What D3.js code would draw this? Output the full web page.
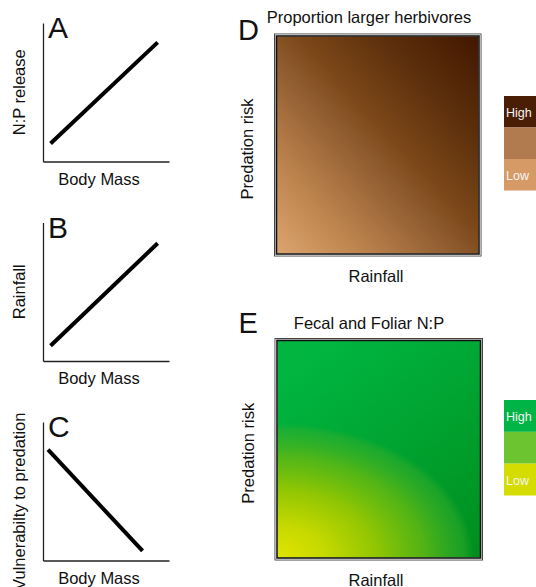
<!DOCTYPE html>
<html>
<head>
<meta charset="utf-8">
<script src="https://cdn.jsdelivr.net/npm/d3@7"></script>
<style>
  body { margin: 0; background: #fff; }
  text { font-family: "Liberation Sans", Arial, sans-serif; fill: #111; }
</style>
</head>
<body>
<div id="chart"></div>
<script>
const width = 536;
const height = 587;

// schematic panels A-C (relative 0..1 units)
const panelLetters = ['A', 'B', 'C'];
const yLabels = ['N:P release', 'Rainfall', 'Vulnerabilty to predation'];
const xLabel = 'Body Mass';
const lineX = [[0.06, 0.91], [0.06, 0.91], [0.04, 0.79]];
const lineY = [[0.13, 0.86], [0.11, 0.85], [0.80, 0.07]];

// heat panels D-E
const heatLetters = ['D', 'E'];
const heatTitles = ['Proportion larger herbivores', 'Fecal and Foliar N:P'];
const heatX = 'Rainfall';
const heatY = 'Predation risk';
const legendLabels = ['High', '', 'Low'];
const herbLegend = ['#4a1d05', '#b27b4f', '#d69a66'];
const npLegend = ['#00b446', '#6cc530', '#d5dc00'];

const herbOffsets = [0, 0.2, 0.45, 0.55, 0.75, 1];
const herbColors = ['#dca46f', '#c08650', '#8e5b2e', '#7c4819', '#5e300c', '#421700'];
const npBaseOffsets = [0, 1];
const npBaseColors = ['#00b540', '#008e1e'];
const npGlowOffsets = [0, 0.25, 0.5, 0.75, 0.95, 1];
const npGlowColors = ['#e2e400', '#c4d800', '#9ac800', '#66ba10', '#3cb02a', '#3cb02a'];
const npGlowOpacity = [1, 1, 0.95, 0.8, 0.45, 0];

const svg = d3.select('#chart')
    .append('svg')
    .attr('width', width)
    .attr('height', height)

const defs = svg.append('defs')

// ---- panels A, B, C
const x = d3.scaleLinear().domain([0, 1]).range([43, 169])

panelLetters.forEach((letter, i) => {
    const top = 23 + i * 199.5
    const bottom = top + 138.5
    const y = d3.scaleLinear().domain([0, 1]).range([bottom, top])
    const g = svg.append('g')

    g.append('g')
        .attr('transform', `translate(0,${bottom})`)
        .call(d3.axisBottom(x).tickValues([]).tickSizeOuter(0))
        .select('.domain').attr('stroke', '#222').attr('stroke-width', 1.3)
    g.append('g')
        .attr('transform', `translate(${x(0)},0)`)
        .call(d3.axisLeft(y).tickValues([]).tickSizeOuter(0))
        .select('.domain').attr('stroke', '#222').attr('stroke-width', 1.3)

    const pts = lineX[i].map((v, k) => [v, lineY[i][k]])
    g.append('path')
        .datum(pts)
        .attr('fill', 'none')
        .attr('stroke', '#000')
        .attr('stroke-width', 4)
        .attr('d', d3.line().x(d => x(d[0])).y(d => y(d[1])))

    g.append('text')
        .attr('x', 48)
        .attr('y', top + 15)
        .attr('font-size', 30)
        .text(letter)

    g.append('text')
        .attr('transform', `translate(25,${(top + bottom) / 2 + (i == 2 ? 10 : 0)}) rotate(-90)`)
        .attr('text-anchor', 'middle')
        .attr('font-size', 16.5)
        .text(yLabels[i])

    g.append('text')
        .attr('x', 99)
        .attr('y', bottom + 23)
        .attr('text-anchor', 'middle')
        .attr('font-size', 16.5)
        .text(xLabel)
})

// ---- gradients
function linGrad(id, offsets, colors, x1, y1, x2, y2) {
    const gr = defs.append('linearGradient')
        .attr('id', id)
        .attr('x1', x1).attr('y1', y1).attr('x2', x2).attr('y2', y2)
    gr.selectAll('stop')
        .data(offsets)
        .enter()
        .append('stop')
        .attr('offset', d => d)
        .attr('stop-color', (d, k) => colors[k])
}
linGrad('herbGrad', herbOffsets, herbColors, 0, 1, 1, 0)
linGrad('npBase', npBaseOffsets, npBaseColors, 0.3, 0, 1, 1)

// ---- panels D, E
const boxes = [
    { x0: 277, x1: 478.5, y0: 36.5, y1: 253.5 },
    { x0: 277.5, x1: 480, y0: 341, y1: 557.5 }
]

boxes.forEach((b, i) => {
    const g = svg.append('g')
    const bx = d3.scaleLinear().domain([0, 1]).range([b.x0, b.x1])
    const by = d3.scaleLinear().domain([0, 1]).range([b.y1, b.y0])
    const w = bx(1) - bx(0)
    const h = by(0) - by(1)

    if (i == 0) {
        g.append('rect')
            .attr('x', bx(0)).attr('y', by(1)).attr('width', w).attr('height', h)
            .attr('fill', 'url(#herbGrad)')
    } else {
        g.append('rect')
            .attr('x', bx(0)).attr('y', by(1)).attr('width', w).attr('height', h)
            .attr('fill', 'url(#npBase)')
        const rg = defs.append('radialGradient')
            .attr('id', 'npGlow')
            .attr('gradientUnits', 'userSpaceOnUse')
            .attr('cx', 0).attr('cy', 0).attr('r', 1)
            .attr('gradientTransform', `translate(${bx(0)},${by(0)}) scale(${w * 0.97},${h * 0.62})`)
        rg.selectAll('stop')
            .data(npGlowOffsets)
            .enter()
            .append('stop')
            .attr('offset', d => d)
            .attr('stop-color', (d, k) => npGlowColors[k])
            .attr('stop-opacity', (d, k) => npGlowOpacity[k])
        g.append('rect')
            .attr('x', bx(0)).attr('y', by(1)).attr('width', w).attr('height', h)
            .attr('fill', 'url(#npGlow)')
    }

    // frame
    g.append('rect')
        .attr('x', bx(0) - 2.5).attr('y', by(1) - 2.5)
        .attr('width', w + 5).attr('height', h + 5)
        .attr('fill', 'none').attr('stroke', '#444').attr('stroke-width', 1)
    g.append('rect')
        .attr('x', bx(0) - 1.5).attr('y', by(1) - 1.5)
        .attr('width', w + 3).attr('height', h + 3)
        .attr('fill', 'none').attr('stroke', '#ccc').attr('stroke-width', 1)
    g.append('rect')
        .attr('x', bx(0) - 0.5).attr('y', by(1) - 0.5)
        .attr('width', w + 1).attr('height', h + 1)
        .attr('fill', 'none').attr('stroke', '#111').attr('stroke-width', 1.5)

    g.append('text')
        .attr('x', bx(0) - 39)
        .attr('y', by(1) + 3 - (i == 0 ? 0 : 11))
        .attr('font-size', 29)
        .text(heatLetters[i])

    g.append('text')
        .attr('x', 369)
        .attr('y', by(1) - 14 + (i == 0 ? 0 : 2))
        .attr('text-anchor', 'middle')
        .attr('font-size', 16.5)
        .text(heatTitles[i])

    g.append('text')
        .attr('transform', `translate(${bx(0) - 24},${(by(0) + by(1)) / 2 + 4}) rotate(-90)`)
        .attr('text-anchor', 'middle')
        .attr('font-size', 16.5)
        .text(heatY)

    g.append('text')
        .attr('x', 376)
        .attr('y', by(0) + 28)
        .attr('text-anchor', 'middle')
        .attr('font-size', 16.5)
        .text(heatX)

    // legend
    const colors = i == 0 ? herbLegend : npLegend
    const ly = d3.scaleBand()
        .domain(d3.range(legendLabels.length))
        .range(i == 0 ? [96, 190.5] : [400, 495.5])
    const lg = g.append('g')
    lg.selectAll('rect')
        .data(legendLabels)
        .enter()
        .append('rect')
        .attr('x', 504)
        .attr('y', (d, k) => ly(k))
        .attr('width', 40)
        .attr('height', ly.bandwidth())
        .attr('fill', (d, k) => colors[k])
    lg.selectAll('text')
        .data(legendLabels)
        .enter()
        .append('text')
        .attr('x', 506)
        .attr('y', (d, k) => ly(k) + ly.bandwidth() / 2 + 5)
        .attr('font-size', 12.5)
        .style('fill', '#f4f4f4')
        .text(d => d)
})
</script>
</body>
</html>
